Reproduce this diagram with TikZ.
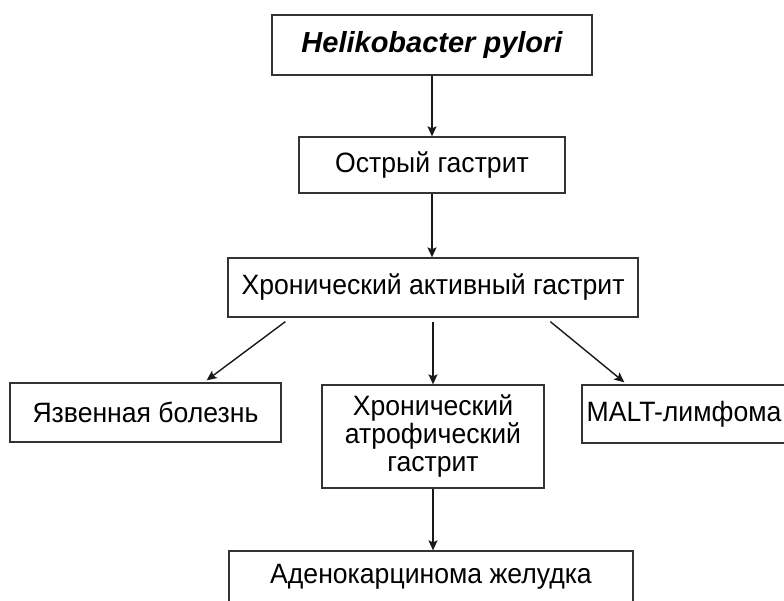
\documentclass[tikz,border=0pt]{standalone}
\usepackage{fontspec}
\setmainfont[FakeStretch=0.95]{Liberation Sans}
\newfontfamily\hpfont{Liberation Sans}
\usetikzlibrary{arrows.meta,calc}
\tikzset{
  bx/.style={rectangle,draw=black!80,fill=white,line width=1.3pt,inner sep=0pt,align=center,
             font=\fontsize{28}{28}\selectfont},
  bxh/.style={bx,font=\hpfont\fontsize{29}{30}\selectfont\bfseries\itshape},
  arr/.style={-{Stealth[length=10pt,width=9pt,inset=2pt]},line width=1.4pt,draw=black!90},
}

\begin{document}
\begin{tikzpicture}[x=1pt,y=-1pt]
\useasboundingbox (0,0) rectangle (784,601);
% ---------- top chain ----------
\node[bxh,minimum width=320pt,minimum height=60pt] (hp) at (432,45) {Helikobacter pylori};
\node[bx,minimum width=266pt,minimum height=56pt] (acute) at (432,165) {Острый гастрит};
\node[bx,minimum width=410pt,minimum height=59pt] (chr) at (433,287.5) {Хронический активный гастрит};
% ---------- three outcomes ----------
\node[bx,minimum width=271pt,minimum height=59pt] (ulcer) at (145.5,412.5) {Язвенная болезнь};
\node[bx,minimum width=222pt,minimum height=103pt] (atro) at (433,436.5) {Хронический\\атрофический\\гастрит};
\node[bx,minimum width=204pt,minimum height=58pt] (malt) at (684,414) {MALT-лимфома};
% ---------- last step, cut by the page ----------
\node[bx,minimum width=404pt,minimum height=52pt] (adeno) at (431,577) {Аденокарцинома желудка};
% arrows
\draw[arr] (hp.south) -- (hp.south |- acute.north);
\draw[arr] (acute.south) -- (acute.south |- chr.north);
\draw[arr] ([xshift=58pt,yshift=-4pt]chr.south west) -- ([xshift=-75pt,yshift=2pt]ulcer.north east);
\draw[arr] ([yshift=-4pt]chr.south) -- (chr.south |- atro.north);
\draw[arr] ([xshift=323pt,yshift=-4pt]chr.south west) -- ([xshift=43pt,yshift=2pt]malt.north west);
\draw[arr] (atro.south) -- (atro.south |- adeno.north);
\end{tikzpicture}
\end{document}
